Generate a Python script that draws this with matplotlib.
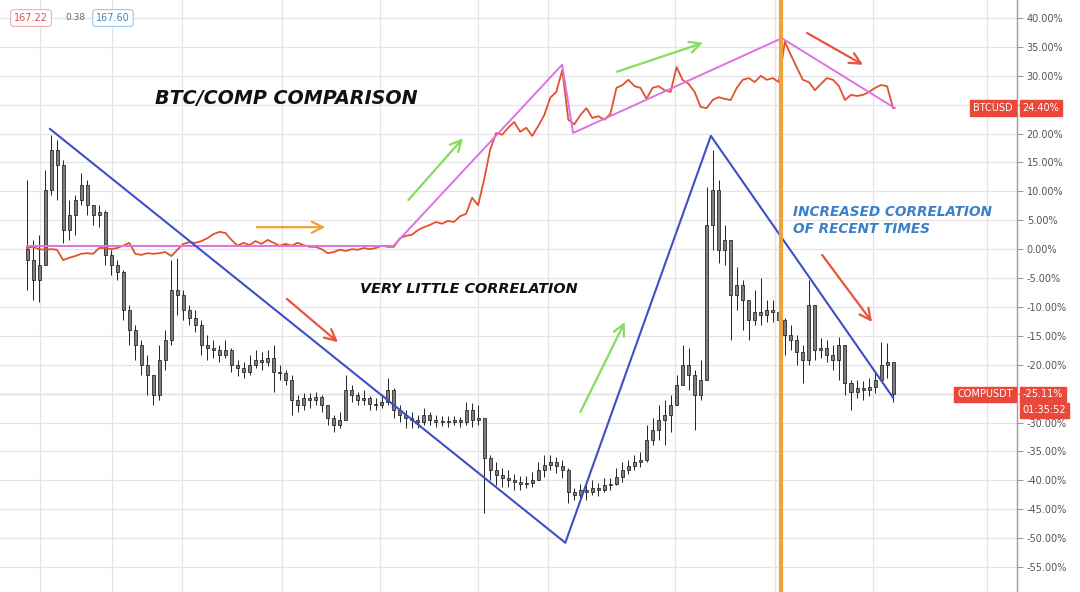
import matplotlib
matplotlib.use("Agg")
import matplotlib.pyplot as plt
from matplotlib.transforms import blended_transform_factory
import numpy as np

# ---------------- data (percent change) ----------------
comp_first_open = 0.0
comp_close = [-1.9, -5.3, -2.7, 10.2, 17.2, 14.6, 3.3, 5.9, 8.5, 11.1,
              7.7, 5.9, 6.4, -1.0, -2.7, -3.9, -10.5, -14.0, -16.6, -20.0,
              -21.8, -25.2, -19.2, -15.7, -7.1, -7.9, -10.5, -11.9, -13.1, -16.6,
              -17.1, -17.4, -18.3, -17.4, -20.0, -20.6, -21.3, -20.0, -19.2, -19.5,
              -18.9, -21.3, -21.4, -22.6, -26.1, -27.0, -25.7, -26.1, -25.6, -27.0,
              -29.2, -30.4, -29.5, -24.4, -25.2, -26.1, -25.7, -26.8, -27.0, -26.4,
              -24.4, -27.8, -28.7, -29.2, -29.5, -29.9, -28.7, -29.5, -29.9, -29.7,
              -29.9, -29.5, -29.9, -27.8, -29.5, -29.2, -36.1, -38.2, -39.1, -39.6,
              -39.9, -40.3, -40.6, -40.5, -39.9, -38.2, -37.3, -36.8, -37.5, -38.2,
              -42.0, -42.5, -41.7, -42.0, -41.3, -41.7, -40.8, -40.6, -39.4, -38.2,
              -37.5, -36.8, -36.5, -33.0, -31.3, -29.5, -28.7, -27.0, -23.5, -20.0,
              -21.8, -25.2, -22.6, 4.2, 10.2, -0.1, 1.6, -7.9, -6.2, -8.8,
              -12.3, -10.9, -11.4, -10.5, -10.9, -12.3, -14.8, -15.7, -17.8, -19.2,
              -9.7, -17.4, -17.1, -18.3, -19.2, -16.6, -23.2, -24.7, -24.0, -24.4,
              -23.9, -22.6, -20.0, -19.5, -25.11]
comp_high = [12.0, 1.6, 2.5, 13.7, 19.8, 18.9, 15.4, 8.5, 9.4, 13.2,
             12.0, 7.7, 7.7, 6.8, -0.1, -1.9, -3.6, -9.7, -13.1, -15.7,
             -18.3, -21.8, -16.6, -14.0, -1.9, -1.5, -7.1, -9.7, -10.5, -12.3,
             -14.8, -15.7, -16.6, -15.7, -17.1, -19.2, -19.5, -18.3, -17.4, -17.8,
             -17.4, -16.6, -20.0, -20.9, -21.8, -25.2, -24.9, -24.9, -24.7, -25.2,
             -27.0, -28.7, -28.2, -21.8, -23.5, -24.7, -24.4, -25.4, -25.7, -25.1,
             -22.3, -24.0, -27.0, -27.8, -28.2, -28.7, -27.5, -28.2, -28.7, -28.9,
             -28.9, -28.9, -29.1, -26.4, -26.6, -27.0, -29.5, -35.6, -36.8, -37.9,
             -38.2, -38.9, -39.2, -39.2, -38.6, -36.8, -35.6, -35.6, -35.9, -36.5,
             -37.9, -41.3, -40.6, -40.8, -39.9, -40.5, -39.6, -39.6, -37.9, -36.8,
             -36.5, -35.6, -35.1, -30.4, -29.2, -27.0, -26.1, -25.2, -21.8, -16.6,
             -17.1, -20.9, -19.2, 10.8, 17.2, 12.0, 4.2, 1.6, -3.1, -5.3,
             -8.8, -7.1, -5.0, -8.8, -8.8, -10.2, -11.9, -13.1, -14.8, -16.6,
             -5.3, -14.0, -15.4, -15.7, -16.6, -15.2, -20.0, -22.6, -22.6, -22.8,
             -22.3, -21.3, -16.1, -16.2, -20.0]
comp_low = [-7.1, -8.8, -9.1, -2.7, 9.4, 8.5, 1.1, 1.6, 2.5, 7.7,
            5.9, 4.2, 3.8, -2.7, -4.5, -5.3, -12.3, -16.6, -19.2, -21.8,
            -25.2, -27.0, -26.1, -20.9, -16.6, -11.4, -12.3, -13.1, -14.3, -18.3,
            -19.2, -18.9, -19.5, -18.9, -21.3, -22.0, -22.3, -21.8, -20.6, -20.9,
            -20.2, -24.7, -22.6, -23.5, -28.7, -28.2, -27.8, -27.5, -27.0, -28.2,
            -30.4, -31.6, -30.9, -29.5, -26.4, -27.0, -27.0, -27.8, -27.8, -27.5,
            -27.0, -29.2, -29.9, -30.9, -30.9, -30.9, -30.4, -30.4, -30.8, -30.6,
            -30.8, -30.4, -30.8, -30.4, -30.8, -30.4, -45.6, -39.9, -40.8, -41.1,
            -41.1, -41.7, -41.7, -41.3, -41.1, -39.9, -39.4, -38.2, -38.7, -39.6,
            -43.9, -43.4, -43.1, -43.4, -42.5, -42.7, -42.0, -41.7, -40.8, -40.3,
            -38.9, -38.2, -37.7, -36.8, -33.9, -33.0, -33.9, -31.6, -26.1, -22.3,
            -24.4, -31.3, -26.1, -22.6, -0.1, -2.4, -2.7, -15.7, -10.5, -14.0,
            -15.7, -13.1, -13.1, -12.6, -12.6, -13.1, -18.3, -17.4, -20.0, -23.2,
            -20.0, -19.2, -18.9, -19.5, -20.9, -22.6, -25.2, -27.8, -25.7, -26.1,
            -25.4, -24.9, -21.8, -22.3, -26.4]
btc_pct = [0.2, 0.4, 0.0, -0.1, 0.0, -0.1, -1.9, -1.5, -1.2, -0.8,
           -0.7, -0.8, 0.2, 0.2, 0.0, 0.2, 0.6, 1.1, -0.8, -1.0,
           -0.7, -0.8, -0.7, -0.5, -1.2, -0.1, 0.9, 1.2, 1.1, 1.4,
           1.9, 2.6, 3.0, 2.8, 1.6, 0.6, 1.1, 0.7, 1.4, 0.9,
           1.6, 1.1, 0.6, 0.9, 0.6, 1.1, 0.7, 0.4, 0.4, 0.0,
           -0.7, -0.5, -0.1, -0.3, 0.0, -0.1, 0.2, 0.0, 0.2, 0.6,
           0.4, 0.4, 1.9, 2.3, 2.5, 3.3, 3.8, 4.2, 4.7, 4.4,
           4.9, 4.7, 5.7, 6.1, 8.9, 7.6, 12.0, 17.2, 20.1, 19.8,
           21.0, 22.0, 20.3, 21.0, 19.6, 21.3, 23.2, 26.2, 27.2, 31.0,
           22.4, 21.6, 23.2, 24.4, 22.7, 23.0, 22.4, 23.4, 27.9, 28.4,
           29.3, 28.2, 27.9, 26.0, 27.9, 28.2, 27.5, 27.2, 31.5, 29.3,
           28.6, 27.2, 24.6, 24.4, 25.8, 26.3, 26.0, 25.8, 27.9, 29.3,
           29.6, 28.9, 30.0, 29.3, 29.6, 28.9, 35.9, 33.6, 31.4, 29.3,
           28.9, 27.5, 28.6, 29.6, 29.3, 28.2, 25.8, 26.7, 26.5, 26.7,
           27.2, 27.9, 28.4, 28.2, 24.40]

y_ticks = list(range(40, -60, -5))
hidden_ticks = [25, -25]          # covered by the price tags in the original
grid_x = [2.16, 14.13, 25.77, 42.4, 58.7, 75.0, 86.6, 107.7, 124.4, 140.7, 159.6]

btc_trend_x = [0, 60.9, 88.96, 90.8, 125.5, 144.3]
btc_trend_y = [0.55, 0.55, 31.9, 20.1, 36.5, 24.4]
comp_trend_x = [3.82, 89.5, 113.7, 144.0]
comp_trend_y = [20.8, -50.8, 19.6, -25.7]
marker_x = 125.4

arrow_starts = [(38.2, 3.8), (43.2, -8.6), (63.4, 8.5), (92.0, -28.2),
                (98.1, 30.7), (129.7, 37.4), (132.2, -1.0)]
arrow_ends = [(49.6, 3.8), (51.7, -16.1), (72.5, 19.2), (99.4, -12.6),
              (112.4, 35.7), (139.0, 31.9), (140.5, -12.6)]
arrow_colors = ['#F0A23A', '#E8553A', '#86DC5E', '#86DC5E',
                '#86DC5E', '#E8553A', '#E8553A']

# ---------------- figure ----------------
W, H = 1080, 592
fig = plt.figure(figsize=(W / 100, H / 100), dpi=100)
fig.patch.set_facecolor('white')
ax = fig.add_axes([0, 0, 1017 / W, 1])
ax.set_facecolor('white')

n = len(comp_close)
x = np.arange(n)
close = np.array(comp_close)
opens = np.concatenate([[comp_first_open], close[:-1]])
high = np.array(comp_high)
low = np.array(comp_low)

ax.set_xlim(-4.49, 164.6)
ax.set_ylim(-59.32, 43.11)

# grid
ax.set_xticks(grid_x)
ax.set_yticks(y_ticks)
ax.grid(True, color='#e4e4e4', lw=0.9, zorder=0)
ax.axvline(grid_x[8], color='#f2c8c0', lw=0.9, zorder=0.5)

# last price line for COMP
ax.axhline(comp_close[-1], color='#f0a8a0', lw=0.9, zorder=1)

# candles
hi_w = np.maximum(high, np.maximum(opens, close))
lo_w = np.minimum(low, np.minimum(opens, close))
ax.vlines(x, lo_w, hi_w, color='#222222', lw=0.7, zorder=3)
bottoms = np.minimum(opens, close)
heights = np.maximum(np.abs(close - opens), 0.15)
ax.bar(x, heights, bottom=bottoms, width=0.5, color='#7d7d7d',
       edgecolor='#1e1e1e', lw=0.55, zorder=4)

# BTC line
ax.plot(x, btc_pct, color='#E0522E', lw=1.3, zorder=5)

# trend lines
ax.plot(btc_trend_x, btc_trend_y, color='#DE72E0', lw=1.4, zorder=6)
ax.plot(comp_trend_x, comp_trend_y, color='#3E4EC6', lw=1.5, zorder=6)

# orange vertical marker
ax.axvline(marker_x, color='#F0A23A', lw=3.0, zorder=7)

# arrows
for (x0, y0), (x1, y1), c in zip(arrow_starts, arrow_ends, arrow_colors):
    ax.annotate('', xy=(x1, y1), xytext=(x0, y0),
                arrowprops=dict(arrowstyle='->', color=c, lw=1.6,
                                mutation_scale=20, shrinkA=0, shrinkB=0),
                zorder=8)

# annotations text
ax.text(21.3, 26.0, 'BTC/COMP COMPARISON', fontsize=13.8, fontweight='bold',
        fontstyle='italic', color='#111111', va='center', ha='left',
        family='DejaVu Sans', zorder=9)
ax.text(55.4, -6.9, 'VERY LITTLE CORRELATION', fontsize=10.4, fontweight='bold',
        fontstyle='italic', color='#111111', va='center', ha='left',
        family='DejaVu Sans', zorder=9)
ax.text(127.4, 6.4, 'INCREASED CORRELATION', fontsize=9.8, fontweight='bold',
        fontstyle='italic', color='#3A80C8', va='center', ha='left',
        family='DejaVu Sans', zorder=9)
ax.text(127.4, 3.5, 'OF RECENT TIMES', fontsize=9.8, fontweight='bold',
        fontstyle='italic', color='#3A80C8', va='center', ha='left',
        family='DejaVu Sans', zorder=9)

# axis styling
for s in ['top', 'left', 'bottom']:
    ax.spines[s].set_visible(False)
ax.spines['right'].set_color('#9a9a9a')
ax.spines['right'].set_linewidth(1.0)
ax.yaxis.tick_right()
ax.set_yticklabels(['' if t in hidden_ticks else f'{t:.2f}%' for t in y_ticks])
ax.tick_params(axis='y', direction='out', length=4, width=0.8, color='#9a9a9a',
               labelsize=7, labelcolor='#555555', pad=3)
ax.tick_params(axis='x', length=0, labelbottom=False)

# right-side price labels
trans = blended_transform_factory(ax.transAxes, ax.transData)
red = '#E8493A'
def tag(y, txt, ha, dy=0):
    ax.annotate(txt, xy=(1.0, y), xycoords=trans,
                xytext=(-3 if ha == 'right' else 4, dy), textcoords='offset points',
                ha=ha, va='center', fontsize=7, color='white', zorder=20,
                annotation_clip=False,
                bbox=dict(boxstyle='square,pad=0.28', fc=red, ec=red))

tag(btc_pct[-1], 'BTCUSD', 'right')
tag(btc_pct[-1], f'{btc_pct[-1]:.2f}%', 'left')
tag(comp_close[-1], 'COMPUSDT', 'right')
tag(comp_close[-1], f'{comp_close[-1]:.2f}%', 'left')
tag(comp_close[-1], '01:35:52', 'left', dy=-11.5)

# top-left legend values
fig.text(31 / W, 1 - 18 / H, '167.22', fontsize=7, color='#d9534f', ha='center',
         va='center', bbox=dict(boxstyle='round,pad=0.35', fc='white', ec='#f0b0ac', lw=0.8))
fig.text(75 / W, 1 - 18 / H, '0.38', fontsize=6.5, color='#666666', ha='center', va='center')
fig.text(113 / W, 1 - 18 / H, '167.60', fontsize=7, color='#3a88c8', ha='center',
         va='center', bbox=dict(boxstyle='round,pad=0.35', fc='white', ec='#9cc8ea', lw=0.8))

fig.savefig('out.png', dpi=100, facecolor='white')
